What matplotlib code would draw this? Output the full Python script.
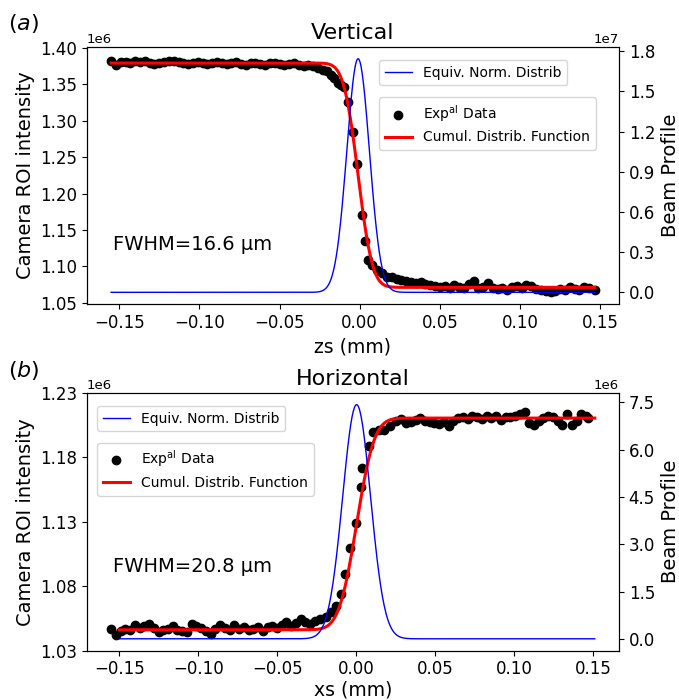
import math
import numpy as np
import matplotlib
matplotlib.use("Agg")
import matplotlib.pyplot as plt

# Vertical scan (panel a): stage position (mm) and camera ROI counts (x1e6)
zs_mm = [-0.1550, -0.1520, -0.1490, -0.1460, -0.1430, -0.1400, -0.1370, -0.1340, -0.1310, -0.1280,
         -0.1250, -0.1220, -0.1190, -0.1160, -0.1130, -0.1100, -0.1070, -0.1040, -0.1010, -0.0980,
         -0.0950, -0.0920, -0.0890, -0.0860, -0.0830, -0.0800, -0.0770, -0.0740, -0.0710, -0.0680,
         -0.0650, -0.0620, -0.0590, -0.0560, -0.0530, -0.0500, -0.0470, -0.0440, -0.0410, -0.0380,
         -0.0350, -0.0320, -0.0290, -0.0260, -0.0230,
         -0.0203, -0.0178, -0.0158, -0.0138, -0.0117, -0.0096, -0.0071, -0.0039, -0.0018, 0.0013,
         0.0032, 0.0054, 0.0079, 0.0110, 0.0141, 0.0172,
         0.0200, 0.0230, 0.0260, 0.0290, 0.0320, 0.0350, 0.0380, 0.0410, 0.0440, 0.0470,
         0.0500, 0.0530, 0.0560, 0.0590, 0.0620, 0.0650, 0.0680, 0.0710, 0.0740, 0.0770,
         0.0800, 0.0830, 0.0860, 0.0890, 0.0920, 0.0950, 0.0980, 0.1010, 0.1040, 0.1070,
         0.1100, 0.1130, 0.1160, 0.1190, 0.1220, 0.1250, 0.1280, 0.1310, 0.1340, 0.1370,
         0.1400, 0.1430, 0.1466]
zs_counts = [1.3816, 1.3772, 1.3805, 1.3812, 1.3795, 1.3822, 1.3808, 1.3818, 1.3790, 1.3778,
             1.3800, 1.3812, 1.3820, 1.3825, 1.3815, 1.3798, 1.3783, 1.3795, 1.3810, 1.3790,
             1.3782, 1.3796, 1.3804, 1.3788, 1.3776, 1.3792, 1.3806, 1.3785, 1.3772, 1.3790,
             1.3800, 1.3782, 1.3770, 1.3788, 1.3798, 1.3780, 1.3766, 1.3778, 1.3790, 1.3772,
             1.3760, 1.3768, 1.3748, 1.3722, 1.3705,
             1.3688, 1.3629, 1.3585, 1.3515, 1.3495, 1.3468, 1.3254, 1.2850, 1.2402, 1.1705,
             1.1348, 1.1087, 1.1018, 1.0949, 1.0912, 1.0857,
             1.0850, 1.0828, 1.0812, 1.0800, 1.0788, 1.0772, 1.0778, 1.0752, 1.0745, 1.0728,
             1.0718, 1.0736, 1.0705, 1.0745, 1.0716, 1.0698, 1.0760, 1.0792, 1.0700, 1.0722,
             1.0770, 1.0702, 1.0684, 1.0700, 1.0674, 1.0718, 1.0736, 1.0702, 1.0745, 1.0730,
             1.0690, 1.0672, 1.0660, 1.0643, 1.0665, 1.0690, 1.0668, 1.0712, 1.0695, 1.0680,
             1.0712, 1.0698, 1.0672]
zs_fwhm_um = 16.6
zs_center = -0.0010
zs_low, zs_high = 1.0711, 1.3794
zs_fit_span = (-0.1550, 0.1466)

# Horizontal scan (panel b)
xs_mm = [-0.1552, -0.1522, -0.1492, -0.1462, -0.1432, -0.1402, -0.1372, -0.1342, -0.1312, -0.1282,
         -0.1252, -0.1222, -0.1192, -0.1162, -0.1132, -0.1102, -0.1072, -0.1042, -0.1012, -0.0982,
         -0.0952, -0.0922, -0.0892, -0.0862, -0.0832, -0.0802, -0.0772, -0.0742, -0.0712, -0.0682,
         -0.0652, -0.0622, -0.0592, -0.0562, -0.0532, -0.0502, -0.0472, -0.0442, -0.0412, -0.0382,
         -0.0352, -0.0322, -0.0292, -0.0262, -0.0232,
         -0.0194, -0.0163, -0.0131, -0.0095, -0.0072, -0.0041, -0.0005, 0.0027, 0.0038, 0.0079,
         0.0107, 0.0142, 0.0174, 0.0216, 0.0254,
         0.0285, 0.0315, 0.0345, 0.0375, 0.0405, 0.0435, 0.0465, 0.0495, 0.0525, 0.0555,
         0.0585, 0.0615, 0.0645, 0.0675, 0.0705, 0.0735, 0.0765, 0.0795, 0.0825, 0.0855,
         0.0885, 0.0915, 0.0945, 0.0975, 0.1005, 0.1035, 0.1065, 0.1095, 0.1125, 0.1155,
         0.1185, 0.1215, 0.1245, 0.1275, 0.1305, 0.1335, 0.1365, 0.1395, 0.1425, 0.1455,
         0.1470]
xs_counts = [1.0469, 1.0417, 1.0448, 1.0470, 1.0462, 1.0495, 1.0478, 1.0488, 1.0503, 1.0474,
             1.0445, 1.0456, 1.0470, 1.0487, 1.0462, 1.0450, 1.0443, 1.0508, 1.0491, 1.0477,
             1.0452, 1.0430, 1.0466, 1.0495, 1.0472, 1.0458, 1.0495, 1.0470, 1.0482, 1.0463,
             1.0469, 1.0480, 1.0455, 1.0482, 1.0490, 1.0475, 1.0500, 1.0521, 1.0494, 1.0512,
             1.0547, 1.0518, 1.0508, 1.0530, 1.0545,
             1.0560, 1.0600, 1.0643, 1.0742, 1.0892, 1.1093, 1.1288, 1.1573, 1.1716, 1.1885,
             1.1995, 1.2016, 1.2011, 1.2040, 1.2079,
             1.2099, 1.2068, 1.2073, 1.2090, 1.2106, 1.2081, 1.2075, 1.2068, 1.2060, 1.2073,
             1.2047, 1.2085, 1.2106, 1.2114, 1.2100, 1.2124, 1.2110, 1.2099, 1.2119, 1.2105,
             1.2124, 1.2093, 1.2114, 1.2110, 1.2124, 1.2135, 1.2150, 1.2068, 1.2054, 1.2080,
             1.2106, 1.2124, 1.2114, 1.2085, 1.2054, 1.2140, 1.2054, 1.2081, 1.2140, 1.2120,
             1.2105]
xs_fwhm_um = 20.8
xs_center = 0.0002
xs_low, xs_high = 1.0461, 1.2105
xs_fit_span = (-0.1500, 0.1510)


def fit_curves(span, center, fwhm_um, low, high, rising):
    '''Error-function edge and its equivalent normal distribution.'''
    sigma = fwhm_um * 1e-3 / (2 * math.sqrt(2 * math.log(2)))
    x = np.linspace(span[0], span[1], 800)
    z = (x - center) / sigma
    phi = 0.5 * (1 + np.vectorize(math.erf)(z / math.sqrt(2)))
    if not rising:
        phi = 1 - phi
    step = (high - low) * 1e6
    cdf = low * 1e6 + step * phi
    pdf = step * np.exp(-0.5 * z ** 2) / (sigma * math.sqrt(2 * math.pi))
    return x, cdf, pdf


def draw_panel(ax, x, y, curves, fwhm_um, title, xlabel, left_ticks, right_ticks,
               ylim, leg_top, leg_left, fwhm_xy, xlabelpad=4):
    fx, cdf, pdf = curves
    ax.scatter(x, np.array(y) * 1e6, color='black', s=36, label=r'Exp$^{\mathrm{al}}$ Data')
    ax.plot(fx, cdf, color='red', lw=2.2, label='Cumul. Distrib. Function')
    ax.set_ylim(ylim[0] * 1e6, ylim[1] * 1e6)
    ax.set_yticks(np.array(left_ticks) * 1e6)
    ax.set_xticks([-0.15, -0.10, -0.05, 0.00, 0.05, 0.10, 0.15])
    ax.set_xlabel(xlabel, fontsize=13.5, labelpad=xlabelpad)
    ax.set_ylabel('Camera ROI intensity', fontsize=14)
    ax.set_title(title, fontsize=16)
    ax.tick_params(labelsize=12)
    ax.yaxis.get_offset_text().set_fontsize(9.5)
    ax.text(fwhm_xy[0], fwhm_xy[1], f'FWHM={fwhm_um} µm', transform=ax.transAxes,
            fontsize=14, va='center', ha='left')

    ax2 = ax.twinx()
    ax2.plot(fx, pdf, color='blue', lw=1.0, label='Equiv. Norm. Distrib')
    ax2.set_yticks(np.array(right_ticks))
    ax2.set_ylabel('Beam Profile', fontsize=14)
    ax2.tick_params(labelsize=12)
    ax2.yaxis.get_offset_text().set_fontsize(9.5)

    ax2.legend(loc='upper left', bbox_to_anchor=(leg_left, leg_top[0]), borderaxespad=0,
               fontsize=10)
    ax.legend(loc='upper left', bbox_to_anchor=(leg_left, leg_top[1]), borderaxespad=0,
              fontsize=10)
    return ax2


fig = plt.figure(figsize=(6.79, 7.00), dpi=100)

ax_a = fig.add_axes([0.1281, 0.5657, 0.7835, 0.3671])
draw_panel(ax_a, zs_mm, zs_counts,
           fit_curves(zs_fit_span, zs_center, zs_fwhm_um, zs_low, zs_high, rising=False),
           zs_fwhm_um, 'Vertical', 'zs (mm)',
           [1.05, 1.10, 1.15, 1.20, 1.25, 1.30, 1.35, 1.40],
           [0, 0.3e7, 0.6e7, 0.9e7, 1.2e7, 1.5e7, 1.8e7],
           (1.0482, 1.4014), (0.9494, 0.8054), 0.5489, (0.0494, 0.2335))

ax_b = fig.add_axes([0.1281, 0.0707, 0.7835, 0.3679])
draw_panel(ax_b, xs_mm, xs_counts,
           fit_curves(xs_fit_span, xs_center, xs_fwhm_um, xs_low, xs_high, rising=True),
           xs_fwhm_um, 'Horizontal', 'xs (mm)',
           [1.03, 1.08, 1.13, 1.18, 1.23],
           [0, 1.5e6, 3.0e6, 4.5e6, 6.0e6, 7.5e6],
           (1.03, 1.23), (0.9496, 0.806), 0.0188, (0.0494, 0.326), xlabelpad=1.5)

# Panel tags
fig.text(8 / 679, 1 - 23.3 / 700, '$(a)$', fontsize=16, ha='left', va='center')
fig.text(8 / 679, 1 - 370.8 / 700, '$(b)$', fontsize=16, ha='left', va='center')

# Caption cut off by the bottom edge of the original screenshot
fig.text(8 / 679, -0.021, 'Figure 3', fontsize=13, fontweight='bold', color='#333333',
         ha='left', va='baseline')

fig.savefig('out.png', dpi=100)
